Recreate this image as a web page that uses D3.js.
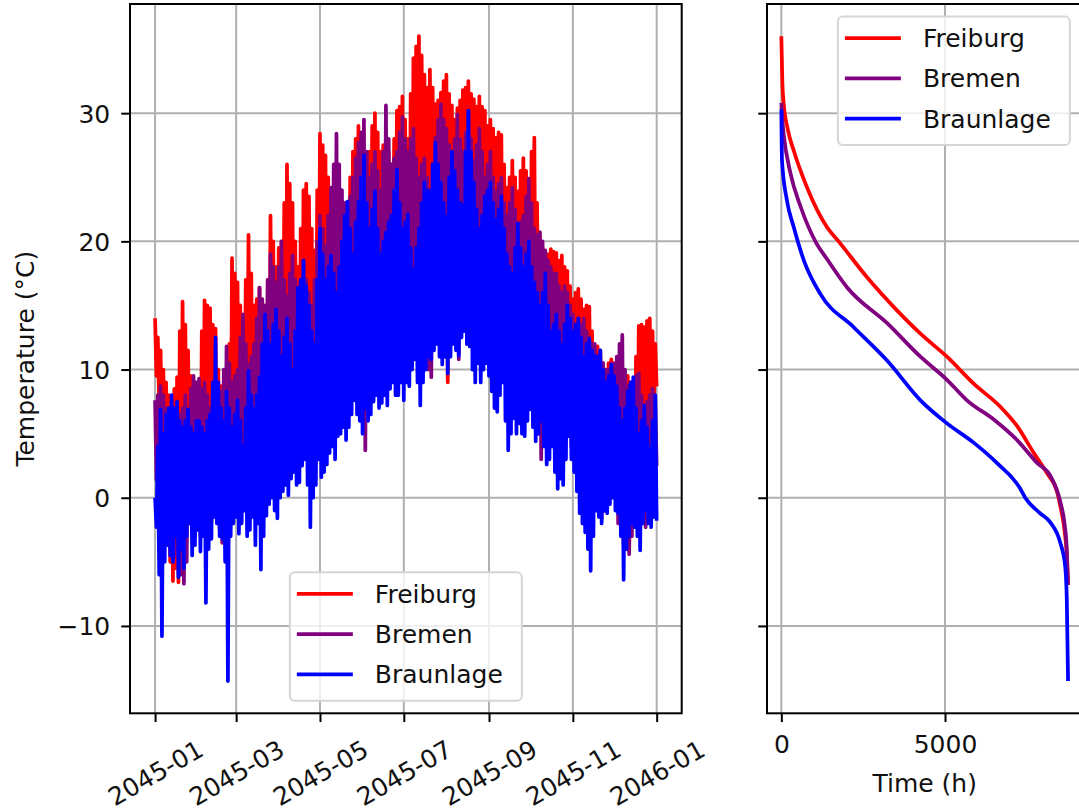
<!DOCTYPE html>
<html>
<head>
<meta charset="utf-8">
<script src="https://cdn.jsdelivr.net/npm/d3@7"></script>
<style>
	body { margin: 0; background: #fff; }
	svg { display: block; font-family: "DejaVu Sans", sans-serif; }
</style>
</head>
<body>
<div id="chart"></div>
<script>
const cities = ["Freiburg", "Bremen", "Braunlage"];
const colors = ["red", "purple", "blue"];

const freiburgHigh = [
	14, 12.5, 11.5, 10, 9, 8, 7.5, 8.5, 9.4, 13, 15.3, 13.5, 11.5, 9.5, 8, 7,
	9, 13, 15.4, 15, 14.8, 13.5, 13.2, 10, 8.7, 7.5, 8, 12, 18.7, 17.5,
	16.8, 15, 13, 17, 20.5, 17.5, 15, 15.5, 16.4, 14.5, 14, 17, 22, 20, 18, 19.5,
	20, 23, 26, 24.5, 23, 20, 18, 21, 24, 24.5, 23.5, 21, 19.3, 24,
	28.4, 27.5, 26.7, 25, 24, 22.5, 22, 22.5, 23.1, 22, 23.1, 25, 27, 28, 29, 27,
	25.3, 26, 27, 29, 30, 28.5, 27, 27.5, 28.1, 27, 26, 28, 30.2, 30.5, 31.3, 29.5,
	28, 31.5, 34.3, 35.2, 36, 34.5, 33, 32, 33.4, 32, 30.7, 31, 31.6, 32.5,
	33, 31.5, 30.6, 29.5, 30.4, 31, 31.8, 32, 32.5, 31.5, 31.1, 30.5, 31.3, 30.5, 30.2, 29,
	29.5, 28.8, 28.1, 28.5, 28.3, 26, 24.2, 25, 26.3, 25, 23.9, 25.5, 26.5, 25.5, 24.9, 27,
	28.1, 23, 20.7, 19.5, 18.5, 19, 19.4, 19.2, 19.1, 18.5, 18.9, 18, 17.7, 16.5,
	15.5, 16, 16.3, 15.5, 14.7, 15, 14.9, 13, 11.5, 11.8, 11.3, 10.5, 10, 10.5, 10.8, 10,
	9.4, 8, 7, 8.5, 9.5, 9, 8.5, 11, 13.4, 13.5, 13.3, 13.8, 14, 13, 12];
const freiburgLow = [
	9.5, 7, 4, 1, -2, -5, -6.5, -5.5, -6.6, -3, -1, 2, 1, 0, -2, -1,
	-3, -2, -1, 1, 2, 0, -1, -2.5, -3.5, -1, -2, 0, 1, 2,
	-0.5, 1, 2, 4, 3, 1, 0, 2, 1, 3, 2.5, 1, 4, 5, 3, 2,
	4, 5, 6, 4, 3, 6, 5, 4, 7, 6, 5, 3, 4, 7,
	8, 7, 6, 8, 7, 5, 9, 7, 8, 9, 10, 8, 9, 10, 11, 9,
	10, 11, 12, 10, 11, 12, 13, 11, 12, 13, 14, 12, 13, 11, 12, 13,
	10.4, 12, 13, 14, 15, 13, 14, 15, 16, 14, 15, 12, 13, 11,
	9, 12, 14, 13, 15, 14, 13, 15, 16, 15, 14, 13, 15, 14, 12, 13,
	13, 14, 12, 13, 11, 12, 14, 13, 12, 11, 10, 12, 11, 10, 9, 10,
	10, 9, 8, 7, 7, 8, 9, 7, 6, 7, 8, 6, 5, 6,
	4, 5, 6, 4, 3, 4, 5, 3, 2, 4, 3, 1, 0, 1, 2, 0,
	-1, -2.5, -3.7, -3, -4.1, -2, -1, 0, 2, 3, 4, 5, 6, 7, 8.7];

const bremenHigh = [
	7.6, 8, 8.7, 8, 7, 6.5, 6, 5, 5.5, 6.5, 7, 8, 6, 8.5, 9.5, 9,
	9.3, 8.5, 9, 8, 7, 6.5, 6, 7.5, 8.3, 10, 11.8, 10.5, 9, 9.5,
	10, 12.5, 14.3, 12, 10.4, 11, 12, 14, 16.4, 15.5, 15, 17, 19, 18, 16.8, 18,
	20, 17, 15.7, 17.5, 18.9, 17, 15.5, 17, 18.5, 17, 16, 15, 17, 20,
	22, 21, 19.6, 22, 24.2, 26, 28.4, 26, 24, 23, 22, 23.5, 25, 26.5, 27.7, 28.5,
	29.5, 27, 25, 26, 27, 25.5, 24, 27, 30.6, 28, 26, 26.5, 27, 28.5, 29.7, 28,
	27, 28, 28.8, 26.5, 25, 26, 26.5, 25, 24, 26, 28.1, 29.5, 30.7, 29.5,
	28.8, 27.5, 26, 28, 29.9, 28, 27, 28.5, 30.2, 28, 26.3, 27.5, 28.8, 27, 25, 26,
	27, 25, 23.9, 24.5, 25, 23, 22, 23, 24.2, 22.5, 21, 21.5, 22, 23.5, 24.9, 23,
	21, 20.5, 20.7, 20, 19.3, 18.5, 18, 17.5, 17.5, 16.5, 16, 16.5, 16, 15,
	14.3, 13.5, 13, 13.5, 14, 13, 12.5, 12, 12, 11, 11.5, 10.5, 10, 10, 10.4, 10.5,
	11, 12, 12.7, 10, 8.7, 8.5, 9, 9.5, 9.7, 8, 7, 7.5, 8, 8.5, 7.6];
const bremenLow = [
	1.4, 3, 2, 0, -1, -2, -3, -4.5, -4, -6, -6.7, -5, -2, -1, -3, -2,
	-1, -2, -3.7, -3, -2, 1, 0, -1, -3.5, -2, -1, 0, 1, 0,
	-1, 1, 2, 1, 0, 2, 3, 2, 1, 3, 4, 3, 2, 4, 5, 3,
	3, 5, 6, 4, 4, 6, 7, 5, 5, 4, 3, 5, 6, 4,
	5, 7, 8, 6, 6, 8, 9, 7, 7, 9, 8, 10, 10, 8, 9, 7,
	3.7, 8, 10, 11, 11, 10, 9, 11, 12, 10, 11, 12, 13, 11, 10, 12,
	12, 13, 11, 13, 14, 12, 12, 10, 9.4, 12, 13, 14, 14, 13,
	12, 14, 13, 12, 10.8, 13, 14, 12, 13, 14, 15, 13, 12, 13, 13, 12,
	11, 12, 12, 11, 10, 12, 11, 10, 9, 11, 10, 9, 8, 9, 9, 7,
	6, 5, 3, 5, 7, 6, 5, 7, 6, 5, 4, 6, 5, 4,
	3, 4, 2, 3, 4, 2, 1, 3, 2, 0, -1.6, -1, 0, 2, 1, 0,
	-2, 0, -1, -3, -4.4, -3, -2, -1, 0, -1, -2.3, 0, 1, 2, 2.5];

const braunlageHigh = [
	0, 4, 6.9, 5, 6.5, 7, 8, 7, 7.5, 6, 5.5, 6, 6.9, 5.5, 5, 6,
	6, 5.5, 5, 6, 6.5, 9, 12.5, 9, 7, 6, 8.3, 7, 5.5, 6.5,
	7.6, 6, 4, 7, 9.9, 8, 7, 8, 9.4, 12, 14.3, 13, 12, 13.5, 14.7, 13,
	11, 12.5, 14, 12, 10, 13, 16.4, 17, 18.5, 16.5, 15, 13, 12, 17,
	21, 19, 17, 18, 18.9, 17.5, 16, 18, 20, 22, 23.1, 21, 19, 21.5, 23.1, 25,
	26.7, 23, 21, 22.5, 23.9, 21, 19, 20, 20.7, 21.5, 22, 24, 25.6, 23, 21, 21.5,
	22.1, 19.5, 17.8, 19.5, 21, 23, 24.6, 24, 23.9, 26, 27.7, 26, 24.6, 23,
	22, 25, 27, 25.5, 24, 23, 22.8, 27, 30.2, 27, 24.6, 22.5, 21, 22, 23.5, 24,
	24.6, 23, 21.7, 22.5, 23.5, 21, 19, 18, 17.5, 19.5, 21.4, 19.5, 18, 19, 20, 18,
	16.8, 16, 15, 16, 17.5, 15, 13, 13.5, 14.3, 13, 12, 13.5, 15, 14,
	13, 13.5, 14, 12.5, 11, 12, 12.4, 11.5, 11.1, 11, 11.5, 10, 9, 9.5, 10.4, 9.5,
	8.7, 7, 6, 7, 8.3, 9, 9.4, 7, 5, 6, 7.2, 5.5, 4, 6, 8];
const braunlageLow = [
	-2.3, -6, -10.8, -5, -3.7, -4.5, -5, -3, -6.2, -4, -5.5, -3, -2, -4.5, -3.7, -2.5,
	-4.2, -3, -8.2, -4, -3.2, -1.5, -2, -3, -3.2, -5, -14.3, -3, -2, -1.5,
	-2.8, -2, -1, -3, -2.5, -1.5, -3.7, -2, -5.6, -3, -1.4, -0.5, 0, -1, -1.6, 0,
	0.5, 1, 0.2, 1.5, 2, 1, 1.2, 2.5, 3, 1, -2.3, 0, 1, 3,
	1.6, 2, 2.6, 3.5, 4, 3, 4.8, 5, 5.5, 4.5, 5.5, 6.5, 7.6, 6.5, 6, 5,
	7, 6, 6.5, 7.5, 8, 7, 7.4, 8, 7.2, 8.5, 9, 8, 8, 9, 7.6, 9,
	8.7, 10, 10.8, 9, 7.2, 9, 10, 11, 10.8, 11.5, 12, 11, 10.4, 11,
	9.7, 11, 12, 11.5, 11.1, 12.5, 13, 12, 11.8, 10, 9, 10.5, 9, 10, 10.5, 9.5,
	8.3, 7, 6.7, 8, 9, 6, 3.7, 5, 6.2, 5, 5.8, 5, 4.8, 6, 6.9, 5.5,
	4.4, 5, 6, 4, 2.6, 3, 4, 2, 0.7, 1.5, 1, 3, 4.8, 3,
	2, 0.5, -1.2, -2, -2.7, -4, -5.7, -3, -1, -1.5, -2, -1, -1.2, -0.5, 0, -1,
	-1.2, -3, -6.4, -4, -3, -2, -2.3, -3, -4.1, -2, -1, -2, -2.3, -1.5, -1.8];

// sorted (duration) curves: hour rank -> temperature
const freiburgSortedHours = [0, 30, 70, 200, 376, 785, 1396, 1750, 2618, 3540, 4250, 5060, 5875, 6690, 7200, 7710, 8120, 8430, 8550, 8650, 8720, 8759];
const freiburgSortedTemps = [36.0, 32.5, 30.8, 28.7, 27.1, 24.2, 21.1, 20.0, 17.2, 14.6, 12.8, 11.0, 8.9, 7.1, 5.6, 3.5, 1.9, 0.4, -1.0, -2.5, -4.5, -6.8];
const bremenSortedHours = [0, 30, 70, 280, 590, 1040, 1400, 2010, 3240, 4250, 5060, 5670, 6490, 7200, 7820, 8220, 8530, 8650, 8720, 8759];
const bremenSortedTemps = [30.8, 29.5, 28.4, 25.3, 22.7, 20.0, 18.6, 16.4, 13.6, 11.0, 9.2, 7.6, 6.1, 4.5, 2.7, 1.7, -0.4, -2.0, -4.0, -6.8];
const braunlageSortedHours = [0, 20, 170, 380, 690, 1190, 2210, 3230, 4250, 5060, 5875, 6590, 7300, 7450, 7900, 8210, 8520, 8670, 8720, 8759];
const braunlageSortedTemps = [30.3, 26.3, 23.2, 21.1, 18.5, 15.9, 13.3, 10.7, 7.6, 5.8, 4.3, 2.7, 0.7, 0.0, -1.2, -1.9, -3.5, -5.3, -7.9, -14.3];

const tempTicks = [-10, 0, 10, 20, 30];
const hourTicks = [0, 5000];
const HOURS_IN_YEAR = 8760;

const highs = [freiburgHigh, bremenHigh, braunlageHigh];
const lows = [freiburgLow, bremenLow, braunlageLow];
const sortedHours = [freiburgSortedHours, bremenSortedHours, braunlageSortedHours];
const sortedTemps = [freiburgSortedTemps, bremenSortedTemps, braunlageSortedTemps];

const WIDTH = 1079, HEIGHT = 811;
const FS = 25;           // 10pt
const PT = FS / 10;      // px per point
const LW = 1.5 * PT;
const TICK = 3.5 * PT;
const TEXT = "#111";
const LEFT = { x0: 130, x1: 681.7, y0: 4, y1: 713.3 };
const RIGHT = { x0: 767, x1: 1082.4, y0: 4, y1: 713.3 };

const padded = (ext) => {
	const p = (ext[1] - ext[0]) * 0.05;
	return [ext[0] - p, ext[1] + p];
};

const svg = d3.select("#chart").append("svg")
	.attr("width", WIDTH)
	.attr("height", HEIGHT);
svg.append("rect").attr("width", WIDTH).attr("height", HEIGHT).attr("fill", "#fff");

// build time series
const t0 = Date.UTC(2045, 0, 1), t1 = Date.UTC(2045, 11, 31, 23);
const series = cities.map((name, i) => {
	const n = highs[i].length * 2 - 1;
	const pts = [];
	highs[i].forEach((h, k) => {
		pts.push({ t: new Date(t0 + (2 * k) * (t1 - t0) / n), v: h });
		pts.push({ t: new Date(t0 + (2 * k + 1) * (t1 - t0) / n), v: lows[i][k] });
	});
	const sorted = sortedHours[i].map((h, j) => ({ h: h, v: sortedTemps[i][j] }));
	return { name: name, color: colors[i], pts: pts, sorted: sorted };
});

const allValues = series.flatMap((s) => s.pts.map((p) => p.v).concat(s.sorted.map((p) => p.v)));
const y = d3.scaleLinear().domain(padded(d3.extent(allValues))).range([LEFT.y1, LEFT.y0]);
const xTime = d3.scaleUtc()
	.domain(padded([t0, t1]).map((d) => new Date(d)))
	.range([LEFT.x0, LEFT.x1]);
const xHour = d3.scaleLinear().domain(padded([0, HOURS_IN_YEAR - 1])).range([RIGHT.x0, RIGHT.x1]);

const minus = (d) => (d < 0 ? "\u2212" + Math.abs(d) : String(d));

function clip(id, box) {
	svg.append("clipPath").attr("id", id)
		.append("rect")
		.attr("x", box.x0).attr("y", box.y0)
		.attr("width", box.x1 - box.x0).attr("height", box.y1 - box.y0);
}
clip("clipLeft", LEFT);
clip("clipRight", RIGHT);

function grid(box, xs, ys) {
	const g = svg.append("g").attr("stroke", "#b0b0b0").attr("stroke-width", 0.8 * PT);
	g.selectAll(".gx").data(xs).enter().append("line")
		.attr("x1", (d) => d).attr("x2", (d) => d)
		.attr("y1", box.y0).attr("y2", box.y1);
	g.selectAll(".gy").data(ys).enter().append("line")
		.attr("x1", box.x0).attr("x2", box.x1)
		.attr("y1", (d) => d).attr("y2", (d) => d);
}

const dateTicks = xTime.ticks(d3.utcMonth.every(2));
grid(LEFT, dateTicks.map(xTime), tempTicks.map(y));
grid(RIGHT, hourTicks.map(xHour), tempTicks.map(y));

// left: time series
const lineTime = d3.line().x((d) => xTime(d.t)).y((d) => y(d.v));
svg.append("g").attr("clip-path", "url(#clipLeft)")
	.selectAll("path").data(series).enter().append("path")
	.attr("d", (d) => lineTime(d.pts))
	.attr("fill", "none")
	.attr("stroke", (d) => d.color)
	.attr("stroke-width", LW)
	.attr("stroke-linejoin", "round");

// right: sorted curves
const lineSorted = d3.line().x((d) => xHour(d.h)).y((d) => y(d.v)).curve(d3.curveMonotoneX);
svg.append("g").attr("clip-path", "url(#clipRight)")
	.selectAll("path").data(series).enter().append("path")
	.attr("d", (d) => lineSorted(d.sorted))
	.attr("fill", "none")
	.attr("stroke", (d) => d.color)
	.attr("stroke-width", LW)
	.attr("stroke-linejoin", "round");

// axes
function styleAxis(g) {
	g.attr("font-size", FS).attr("font-family", "DejaVu Sans, sans-serif");
	g.select(".domain").remove();
	g.selectAll(".tick line").attr("stroke", "#000").attr("stroke-width", 0.8 * PT);
	g.selectAll(".tick text").attr("fill", TEXT);
}

const xAxisLeft = svg.append("g")
	.attr("transform", `translate(0,${LEFT.y1})`)
	.call(d3.axisBottom(xTime).tickValues(dateTicks).tickFormat(d3.utcFormat("%Y-%m")).tickSize(TICK))
	.call(styleAxis);
xAxisLeft.selectAll(".tick text")
	.attr("y", 0).attr("dy", "0.36em")
	.attr("text-anchor", "middle")
	.attr("transform", "translate(0,59.5) rotate(-30)");

svg.append("g")
	.attr("transform", `translate(${LEFT.x0},0)`)
	.call(d3.axisLeft(y).tickValues(tempTicks).tickFormat(minus).tickSize(TICK).tickPadding(11))
	.call(styleAxis)
	.selectAll(".tick text").attr("dy", "0.36em");

svg.append("g")
	.attr("transform", `translate(0,${RIGHT.y1})`)
	.call(d3.axisBottom(xHour).tickValues(hourTicks).tickFormat(d3.format("d")).tickSize(TICK))
	.call(styleAxis)
	.selectAll(".tick text").attr("y", 39.7).attr("dy", null);

svg.append("g")
	.attr("transform", `translate(${RIGHT.x0},0)`)
	.call(d3.axisLeft(y).tickValues(tempTicks).tickFormat("").tickSize(TICK))
	.call(styleAxis);

// spines
[LEFT, RIGHT].forEach((b) => {
	svg.append("rect")
		.attr("x", b.x0).attr("y", b.y0)
		.attr("width", b.x1 - b.x0).attr("height", b.y1 - b.y0)
		.attr("fill", "none").attr("stroke", "#000").attr("stroke-width", 0.8 * PT);
});

// axis labels
svg.append("text")
	.attr("transform", `translate(34,${(LEFT.y0 + LEFT.y1) / 2}) rotate(-90)`)
	.attr("text-anchor", "middle")
	.attr("font-size", FS).attr("fill", TEXT)
	.text("Temperature (°C)");
svg.append("text")
	.attr("x", (RIGHT.x0 + RIGHT.x1) / 2).attr("y", 791.5)
	.attr("text-anchor", "middle")
	.attr("font-size", FS).attr("fill", TEXT)
	.text("Time (h)");

// legends
const LEG_W = 232, LEG_H = 128.5, LEG_PAD = 0.5 * FS;
function legend(x, yTop) {
	const g = svg.append("g").attr("transform", `translate(${x},${yTop})`);
	g.append("rect")
		.attr("width", LEG_W).attr("height", LEG_H)
		.attr("rx", 5).attr("ry", 5)
		.attr("fill", "#fff").attr("fill-opacity", 0.8)
		.attr("stroke", "#d6d6d6").attr("stroke-width", 2);
	const rows = g.selectAll(".row").data(series).enter().append("g")
		.attr("transform", (d, i) => `translate(0,${21.5 + i * 40.3})`);
	rows.append("line")
		.attr("x1", 7).attr("x2", 63)
		.attr("stroke", (d) => d.color).attr("stroke-width", LW);
	rows.append("text")
		.attr("x", 85).attr("dy", "0.36em")
		.attr("font-size", FS).attr("fill", TEXT)
		.text((d) => d.name);
}
legend((LEFT.x0 + LEFT.x1) / 2 - LEG_W / 2, LEFT.y1 - LEG_PAD - LEG_H);
legend(RIGHT.x1 - LEG_PAD - LEG_W, RIGHT.y0 + LEG_PAD);
</script>
</body>
</html>
